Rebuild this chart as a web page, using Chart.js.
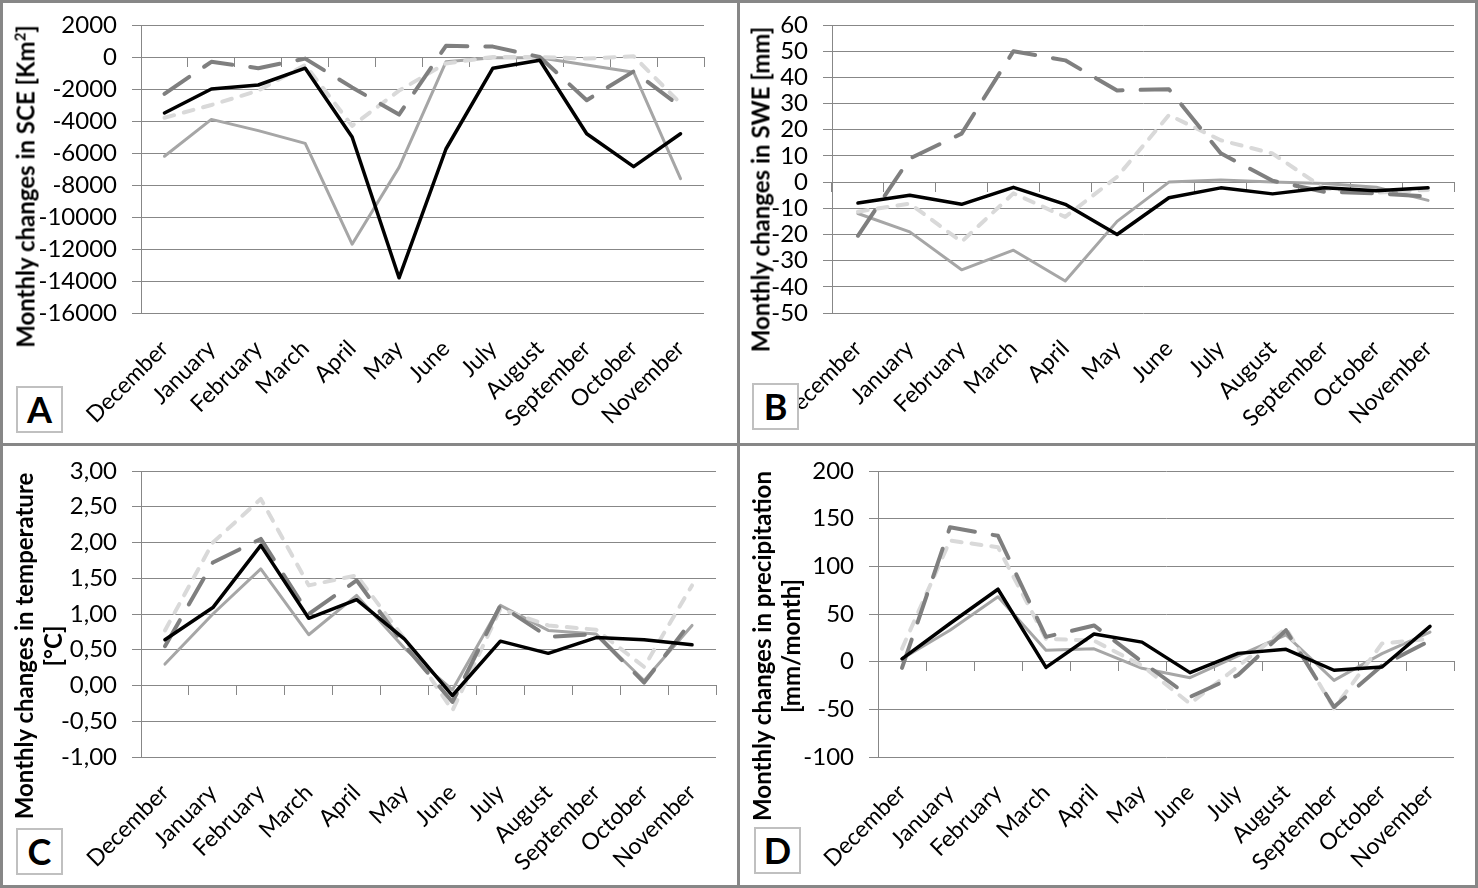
<!DOCTYPE html>
<html lang="en">
<head>
<meta charset="UTF-8">
<title>Monthly changes</title>
<script src="https://cdn.jsdelivr.net/npm/chart.js"></script>
<style>
  body { margin: 0; background: #fff; }
  #frame { position: relative; width: 1478px; height: 888px; background: #878787; overflow: hidden; }
  .panel { position: absolute; background: #fff; overflow: hidden; }
  .panel canvas { position: absolute; left: 0; top: 0; }
  .ytitle { position: absolute; width: 500px; text-align: center; font: bold 24px Lato, sans-serif; line-height: 29px; transform: rotate(-90deg); color: #000; white-space: nowrap; }
  .ytitle sup { font-size: 15px; line-height: 0; }
  .tag { position: absolute; width: 43px; height: 43px; border: 2px solid #c0c0c0; background: #fff; font: bold 36px Lato, sans-serif; text-align: center; line-height: 43px; color: #000; }
</style>
</head>
<body>
<div id="frame">
  <div class="panel" style="left:3px;top:3px;width:734px;height:440px">
    <canvas id="chartA" width="734" height="440"></canvas>
    <div class="ytitle" style="left:-228px;top:169px;height:29px">Monthly changes in SCE [Km<sup>2</sup>]</div>
    <div class="tag" style="left:13px;top:383px">A</div>
  </div>
  <div class="panel" style="left:740px;top:3px;width:735px;height:440px">
    <canvas id="chartB" width="735" height="440"></canvas>
    <div class="ytitle" style="left:-230px;top:172px;height:29px">Monthly changes in SWE [mm]</div>
    <div class="tag" style="left:12px;top:380px">B</div>
  </div>
  <div class="panel" style="left:3px;top:446px;width:734px;height:439px">
    <canvas id="chartC" width="734" height="439"></canvas>
    <div class="ytitle" style="left:-215px;top:171px;height:58px">Monthly changes in temperature<br>[°C]</div>
    <div class="tag" style="left:13px;top:382px">C</div>
  </div>
  <div class="panel" style="left:740px;top:446px;width:735px;height:439px">
    <canvas id="chartD" width="735" height="439"></canvas>
    <div class="ytitle" style="left:-214px;top:171px;height:58px">Monthly changes in precipitation<br>[mm/month]</div>
    <div class="tag" style="left:14px;top:381px">D</div>
  </div>
</div>

<script>
const months = ['December', 'January', 'February', 'March', 'April', 'May', 'June',
                'July', 'August', 'September', 'October', 'November'];

// A - snow cover extent
const sceBlack = [-3500, -2000, -1750, -700, -5000, -13800, -5750, -700, -200, -4800, -6850, -4800];
const sceGrey = [-6200, -3900, -4600, -5400, -11700, -6900, -300, -50, -50, -500, -950, -7600];
const sceDarkDash = [-2300, -300, -700, -100, -1900, -3600, 700, 650, 0, -2700, -900, -3100];
const sceLightDash = [-3800, -3000, -2100, -500, -4300, -2100, -400, 0, 0, -100, 50, -2900];

// B - snow water equivalent
const sweBlack = [-8, -5, -8.5, -2, -8.5, -20, -6, -2.2, -4.5, -2.2, -3.3, -2.2];
const sweGrey = [-12, -19, -33.5, -26, -37.8, -15, 0, 0.8, 0, -0.5, -2, -7];
const sweDarkDash = [-20.5, 9, 18.5, 50, 46.5, 35, 35.5, 11, 0.5, -3.7, -4.3, -5.5];
const sweLightDash = [-11.3, -8.2, -22.8, -4.3, -13.3, 2, 25.6, 16, 10.9, -2.5, -4, -3];

// C - temperature
const tempBlack = [0.64, 1.09, 1.96, 0.94, 1.20, 0.65, -0.14, 0.62, 0.45, 0.67, 0.64, 0.57];
const tempGrey = [0.30, 1.00, 1.63, 0.71, 1.26, 0.52, -0.06, 1.12, 0.77, 0.72, 0.07, 0.84];
const tempDarkDash = [0.55, 1.72, 2.05, 1.00, 1.47, 0.56, -0.23, 1.12, 0.68, 0.72, 0.04, 0.91];
const tempLightDash = [0.77, 2.00, 2.61, 1.40, 1.54, 0.65, -0.35, 1.07, 0.84, 0.78, 0.26, 1.40];

// D - precipitation
const precBlack = [3, 40, 76, -6, 29, 20.5, -11.5, 8.7, 13, -9, -5.6, 37];
const precGrey = [3, 33, 68, 12, 13.5, -7, -16.8, 6, 28, -19.6, 8.4, 31];
const precDarkDash = [-6.6, 141, 132, 26, 38, 0, -37, -14, 33, -47.5, -4, 22];
const precLightDash = [13.6, 127, 120, 24, 22, -4, -44, -5, 35, -49, 19, 24];

const GRID = '#878787';

Chart.defaults.font.family = 'Lato, sans-serif';
Chart.defaults.font.size = 24;
Chart.defaults.color = '#000';

function line(data, color, width, dash) {
    return {
        data: data,
        borderColor: color,
        borderWidth: width,
        borderDash: dash,
        borderCapStyle: 'round',
        borderJoinStyle: 'round',
        pointRadius: 0,
        tension: 0,
        fill: false
    };
}

function makeChart(id, box, yMin, yMax, step, fmt, black, grey, darkDash, lightDash) {
    return new Chart(document.getElementById(id), {
        type: 'line',
        data: {
            labels: months,
            // first dataset is drawn on top
            datasets: [
                line(black, '#000000', 3.5, []),
                line(darkDash, '#7f7f7f', 4, [30, 18]),
                line(lightDash, '#d9d9d9', 4, [10, 10]),
                line(grey, '#a6a6a6', 3, [])
            ]
        },
        options: {
            responsive: false,
            animation: false,
            devicePixelRatio: 1,
            layout: { autoPadding: false, padding: { top: box.top, right: box.right, left: 0, bottom: 0 } },
            plugins: { legend: { display: false }, tooltip: { enabled: false } },
            scales: {
                x: {
                    type: 'category',
                    offset: true,
                    grid: { display: false },
                    border: { display: false },
                    ticks: { minRotation: 45, maxRotation: 45, autoSkip: false, padding: 14, font: { size: 23 } },
                    afterFit: s => { s.height = box.xh; }
                },
                // zero line with tick marks between categories
                x0: {
                    type: 'category',
                    position: { y: 0 },
                    offset: true,
                    ticks: { display: false },
                    grid: { offset: true, drawOnChartArea: false, tickLength: 9, color: GRID },
                    border: { color: GRID }
                },
                y: {
                    min: yMin,
                    max: yMax,
                    // small lineHeight keeps the label padding from pushing the plot down
                    ticks: { stepSize: step, padding: 15, autoSkip: false, callback: fmt, font: { size: 24, lineHeight: 0.5 } },
                    grid: { color: GRID, tickLength: 9 },
                    border: { color: GRID },
                    afterFit: s => { s.width = box.left; }
                }
            }
        }
    });
}

const intFmt = v => String(Math.round(v));
const commaFmt = v => v.toFixed(2).replace('.', ',');

makeChart('chartA', { left: 138, right: 33, top: 22, xh: 130 }, -16000, 2000, 2000, intFmt,
    sceBlack, sceGrey, sceDarkDash, sceLightDash);
makeChart('chartB', { left: 92, right: 21, top: 22, xh: 130 }, -50, 60, 10, intFmt,
    sweBlack, sweGrey, sweDarkDash, sweLightDash);
makeChart('chartC', { left: 138, right: 21, top: 25, xh: 128 }, -1, 3, 0.5, commaFmt,
    tempBlack, tempGrey, tempDarkDash, tempLightDash);
makeChart('chartD', { left: 138, right: 21, top: 25, xh: 128 }, -100, 200, 50, intFmt,
    precBlack, precGrey, precDarkDash, precLightDash);
</script>
</body>
</html>
